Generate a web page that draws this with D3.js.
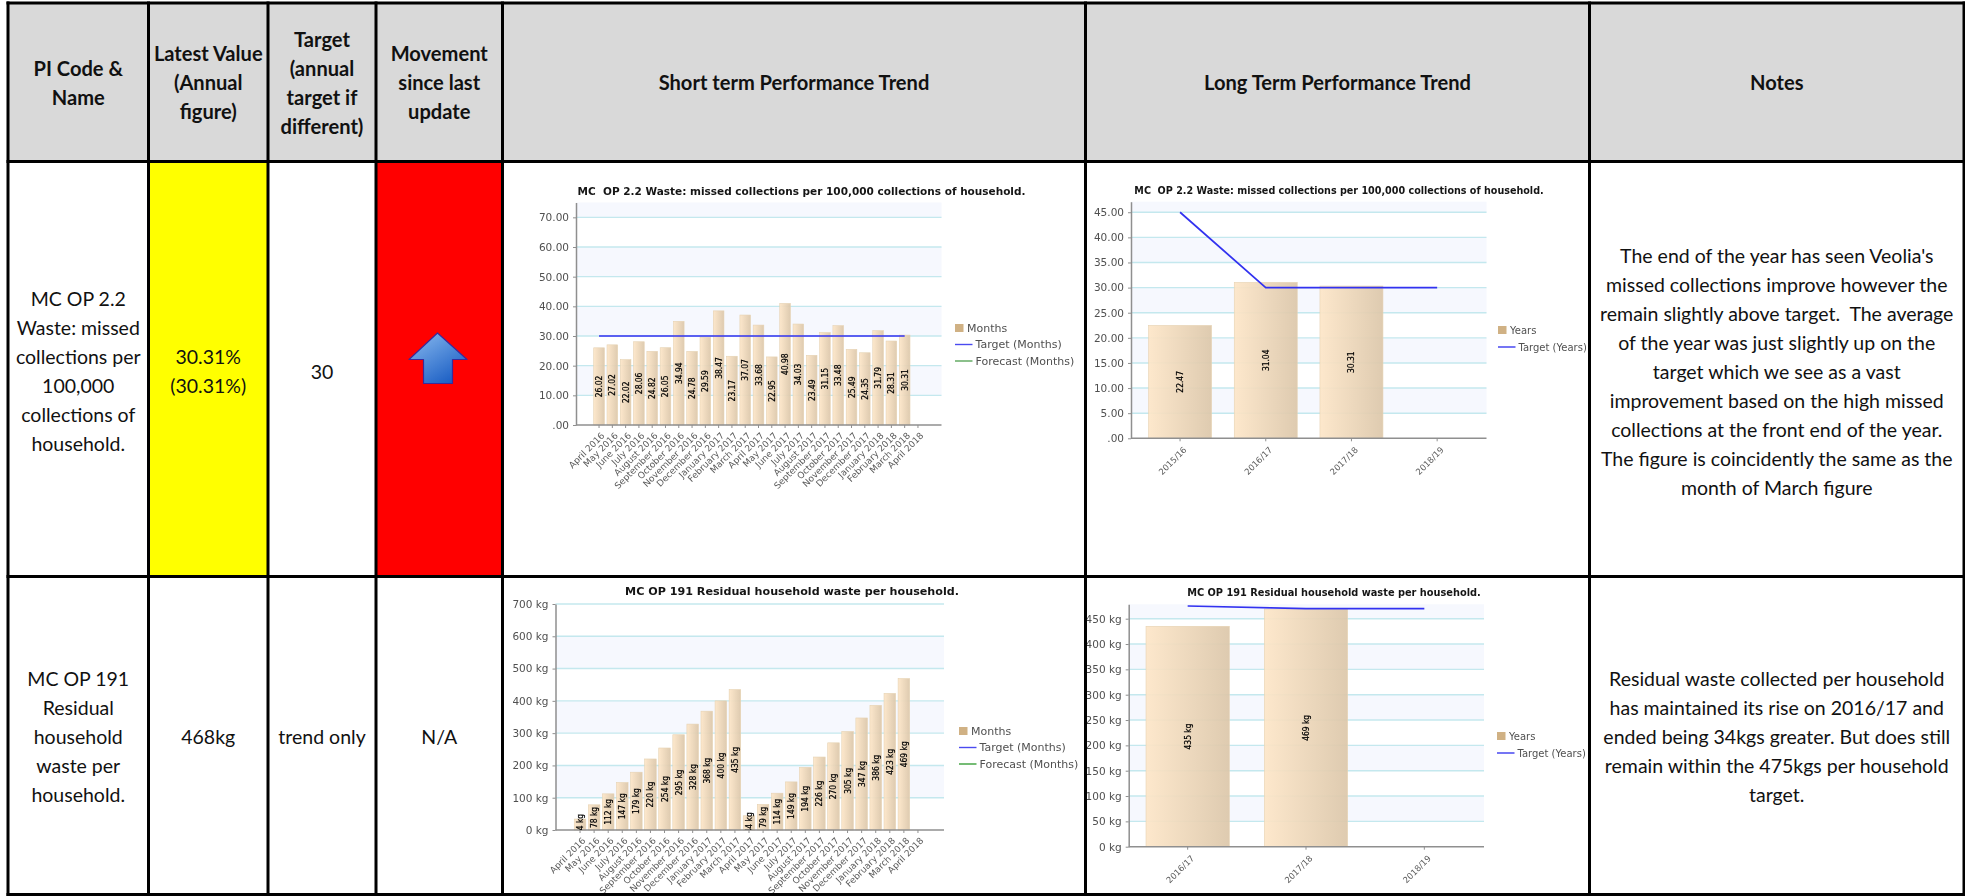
<!DOCTYPE html>
<html>
<head>
<meta charset="utf-8">
<title>Performance indicators</title>
<script src="https://cdnjs.cloudflare.com/ajax/libs/d3/7.8.5/d3.min.js"></script>
<style>
html,body{margin:0;padding:0;background:#fff;overflow:hidden}
svg{display:block}
.cell-text{font-family:Lato,"Open Sans",sans-serif;fill:#111;text-anchor:middle;dominant-baseline:central}
.chart{font-family:"DejaVu Sans",sans-serif;filter:blur(.5px)}
.chart .domain{stroke:#8f8f8f;stroke-width:1.5px}
.chart .tick line{stroke:#8f8f8f}
</style>
</head>
<body>
<svg id="page" width="1965" height="896"></svg>
<script>
// ---- Chart data ----
const monthLabels = ["April 2016","May 2016","June 2016","July 2016","August 2016","September 2016","October 2016","November 2016","December 2016","January 2017","February 2017","March 2017","April 2017","May 2017","June 2017","July 2017","August 2017","September 2017","October 2017","November 2017","December 2017","January 2018","February 2018","March 2018","April 2018"];
const missedMonthly = [26.02,27.02,22.02,28.06,24.82,26.05,34.94,24.78,29.59,38.47,23.17,37.07,33.68,22.95,40.98,34.03,23.49,31.15,33.48,25.49,24.35,31.79,28.31,30.31];
const missedMonthlyTarget = [30,30,30,30,30,30,30,30,30,30,30,30,30,30,30,30,30,30,30,30,30,30,30,30];
const residualMonthly = [34,78,112,147,179,220,254,295,328,368,400,435,44,79,114,149,194,226,270,305,347,386,423,469];
const missedYears = ["2015/16","2016/17","2017/18","2018/19"];
const missedYearly = [22.47,31.04,30.31];
const missedYearlyTarget = [45,30,30,30];
const residualYears = ["2016/17","2017/18","2018/19"];
const residualYearly = [435,469];
const residualYearlyTarget = [475,470,470];
const missedMonthTicks = [0,10,20,30,40,50,60,70];
const residualMonthTicks = [0,100,200,300,400,500,600,700];
const missedYearTicks = [0,5,10,15,20,25,30,35,40,45];
const residualYearTicks = [0,50,100,150,200,250,300,350,400,450];
const missedTitle = "MC  OP 2.2 Waste: missed collections per 100,000 collections of household.";
const residualTitle = "MC OP 191 Residual household waste per household.";

// ---- Table text ----
const headerTexts = [
  ["PI Code &","Name"],
  ["Latest Value","(Annual","figure)"],
  ["Target","(annual","target if","different)"],
  ["Movement","since last","update"],
  ["Short term Performance Trend"],
  ["Long Term Performance Trend"],
  ["Notes"]
];
const rowOneTexts = [
  ["MC OP 2.2","Waste: missed","collections per","100,000","collections of","household."],
  ["30.31%","(30.31%)"],
  ["30"]
];
const rowTwoTexts = [
  ["MC OP 191","Residual","household","waste per","household."],
  ["468kg"],
  ["trend only"],
  ["N/A"]
];
const rowOneNotes = ["The end of the year has seen Veolia's","missed collections improve however the","remain slightly above target.  The average","of the year was just slightly up on the","target which we see as a vast","improvement based on the high missed","collections at the front end of the year.","The figure is coincidently the same as the","month of March figure"];
const rowTwoNotes = ["Residual waste collected per household","has maintained its rise on 2016/17 and","ended being 34kgs greater. But does still","remain within the 475kgs per household","target."];

// ---- Table geometry ----
const colEdges = [8,148.5,268,376,502.5,1085.5,1589.5,1964];
const rowEdges = [3,161.5,576.5,894.5];
const lineHeight = 29;

const svg = d3.select("#page");
const defs = svg.append("defs");

const barGradient = defs.append("linearGradient").attr("id","barFill");
barGradient.append("stop").attr("offset","0%").attr("stop-color","#fde6c8");
barGradient.append("stop").attr("offset","100%").attr("stop-color","#dcc7aa");

const arrowGradient = defs.append("linearGradient").attr("id","arrowFill").attr("x1",0).attr("x2",.7).attr("y1",0).attr("y2",1);
arrowGradient.append("stop").attr("offset","0%").attr("stop-color","#8cbcf0");
arrowGradient.append("stop").attr("offset","100%").attr("stop-color","#1c5fc4");

// Cell backgrounds
const cx = i => (colEdges[i]+colEdges[i+1])/2;
const cy = i => (rowEdges[i]+rowEdges[i+1])/2;
const fillCell = (col,row,color) => svg.append("rect")
  .attr("x",colEdges[col]).attr("y",rowEdges[row])
  .attr("width",colEdges[col+1]-colEdges[col]).attr("height",rowEdges[row+1]-rowEdges[row])
  .attr("fill",color);
d3.range(7).forEach(c => fillCell(c,0,"#d9d9d9"));
fillCell(1,1,"#ffff00");
fillCell(3,1,"#ff0000");

// Centred multi-line cell text
function cellText(lines,x,y,opts={}){
  const start = y-(lines.length-1)*lineHeight/2;
  svg.append("g").selectAll("text").data(lines).join("text")
    .attr("class","cell-text")
    .attr("x",x)
    .attr("y",(d,i)=>start+i*lineHeight)
    .attr("font-size",opts.size||19.5)
    .attr("font-weight",opts.bold?700:400)
    .attr("xml:space","preserve")
    .style("white-space","pre")
    .text(d=>d);
}
headerTexts.forEach((lines,i)=>cellText(lines,cx(i),cy(0),{bold:true,size:20.1}));
rowOneTexts.forEach((lines,i)=>cellText(lines,cx(i),cy(1)+2,{}));
cellText(rowOneNotes,cx(6),cy(1)+2,{});
rowTwoTexts.forEach((lines,i)=>cellText(lines,cx(i),cy(2)+1,{}));
cellText(rowTwoNotes,cx(6),cy(2)+1,{});

// Upward movement arrow
svg.append("path")
  .attr("d","M437.5,333 L467,359.5 L452.5,359.5 L452.5,383.5 L423.5,383.5 L423.5,359.5 L409,359.5 Z")
  .attr("fill","url(#arrowFill)")
  .attr("stroke","#3a2a9a").attr("stroke-width",1.2).attr("stroke-linejoin","round")
  .style("filter","blur(.5px)");

// Bar and target-line chart drawn from a category axis and a value axis
let clipCount = 0;
function drawChart(c){
  const g = svg.append("g").attr("class","chart");
  const x = d3.scaleBand().domain(c.categories).range(c.xRange).paddingInner(c.padding).paddingOuter(c.padding/2);
  const y = d3.scaleLinear().domain([0,c.yMax]).range([c.bottom,c.top]);
  const xMid = d => x(d)+x.bandwidth()/2;

  // Alternating bands between grid lines, starting unshaded at zero
  const edges = c.yTicks.concat([c.yMax]).filter((v,i,a)=>a.indexOf(v)===i);
  g.append("g").selectAll("rect").data(d3.pairs(edges).filter((p,i)=>i%2===1)).join("rect")
    .attr("x",c.left).attr("width",c.right-c.left)
    .attr("y",d=>y(d[1])).attr("height",d=>y(d[0])-y(d[1]))
    .attr("fill","#f6f8fe");

  g.append("g").selectAll("line").data(c.yTicks.filter(v=>v>0)).join("line")
    .attr("x1",c.left).attr("x2",c.right)
    .attr("y1",d=>y(d)).attr("y2",d=>y(d))
    .attr("stroke","#c4e8ee").attr("stroke-width",1.4);

  // Bars
  g.append("g").selectAll("rect").data(c.values).join("rect")
    .attr("x",(d,i)=>x(c.categories[i]))
    .attr("width",x.bandwidth())
    .attr("y",d=>y(d))
    .attr("height",d=>y(0)-y(d))
    .attr("fill","url(#barFill)")
    .attr("fill-opacity",.93)
    .attr("stroke","#e6d2b2").attr("stroke-width",.6);

  // Target line
  const line = d3.line().x((d,i)=>xMid(c.categories[i])).y(d=>y(d));
  g.append("path").datum(c.target).attr("d",line)
    .attr("fill","none").attr("stroke","#3232f0").attr("stroke-width",1.7);

  // Axes
  const xAxis = d3.axisBottom(x).tickSize(3).tickSizeOuter(0);
  const yAxis = d3.axisLeft(y).tickValues(c.yTicks).tickFormat(c.format).tickSize(3).tickPadding(4).tickSizeOuter(0);
  const gy = g.append("g").attr("transform",`translate(${c.left},0)`).call(yAxis);
  gy.selectAll("text").attr("font-size",c.yFont||10.5).attr("fill","#505050").attr("font-family","DejaVu Sans");
  const gx = g.append("g").attr("transform",`translate(0,${c.bottom})`).call(xAxis);
  gx.select(".domain").attr("d",`M${c.left},0H${c.right}`);
  gx.selectAll("text")
    .attr("font-size",c.xFont).attr("fill","#5a5a5a").attr("font-family","DejaVu Sans")
    .attr("text-anchor","end").attr("dx","0").attr("dy","0")
    .attr("y",0).attr("x",0)
    .attr("transform",`translate(${c.xLabelShift[0]},${c.xLabelShift[1]}) rotate(-45)`)
    .attr("dominant-baseline","central");

  // Value labels sit at mid-bar, cut off at the axis when the bar is short
  const clipId = "plot"+(clipCount++);
  defs.append("clipPath").attr("id",clipId).append("rect")
    .attr("x",c.left).attr("y",c.top).attr("width",c.right-c.left).attr("height",c.bottom-c.top);
  g.append("g").attr("clip-path",`url(#${clipId})`).selectAll("text").data(c.values).join("text")
    .attr("transform",(d,i)=>`translate(${xMid(c.categories[i])},${y(d/2)}) rotate(-90)`)
    .attr("text-anchor","middle").attr("dominant-baseline","central")
    .attr("font-family","DejaVu Sans Condensed, DejaVu Sans")
    .style("font-stretch","condensed")
    .attr("font-size",8.4).attr("fill","#000")
    .attr("stroke","#000").attr("stroke-width",.22)
    .text(c.labelFormat);

  // Title
  g.append("text").attr("x",c.titleX).attr("y",c.titleY)
    .attr("text-anchor","middle").attr("dominant-baseline","central")
    .attr("font-weight",700).attr("font-size",c.titleSize).attr("fill","#151515")
    .attr("xml:space","preserve").style("white-space","pre")
    .text(c.title);

  // Legend
  const legend = g.append("g").selectAll("g").data(c.legend).join("g")
    .attr("transform",(d,i)=>`translate(${c.legendX},${c.legendY+i*c.legendStep})`);
  legend.filter(d=>d.type==="bar").append("rect")
    .attr("x",0).attr("y",-4).attr("width",8.5).attr("height",8).attr("fill","#d0b184");
  legend.filter(d=>d.type==="line").append("line")
    .attr("x1",0).attr("x2",17.5).attr("stroke",d=>d.color).attr("stroke-width",1.4);
  legend.append("text")
    .attr("x",d=>d.type==="bar"?12:20.5)
    .attr("dominant-baseline","central")
    .attr("font-size",c.legendFont).attr("fill","#505050")
    .text(d=>d.name);
}

const twoDecimals = d3.format(".2f");
const tickDecimals = v => v===0 ? ".00" : twoDecimals(v);
const kg = v => v+" kg";

drawChart({
  title:missedTitle, titleX:801.5, titleY:191, titleSize:10.5,
  categories:monthLabels, values:missedMonthly, target:missedMonthlyTarget,
  yTicks:missedMonthTicks, yMax:75, format:tickDecimals, labelFormat:twoDecimals,
  left:576, right:941.5, top:202.5, bottom:425, xRange:[592.4,924.6], padding:.2, xFont:9, xLabelShift:[4,9],
  legendX:955, legendY:328, legendStep:16.5, legendFont:11,
  legend:[{type:"bar",name:"Months"},{type:"line",name:"Target (Months)",color:"#4a4af0"},{type:"line",name:"Forecast (Months)",color:"#5aa55a"}]
});
drawChart({
  title:residualTitle, titleX:792, titleY:591.5, titleSize:11.15,
  categories:monthLabels, values:residualMonthly, target:[],
  yTicks:residualMonthTicks, yMax:700, format:kg, labelFormat:kg,
  left:555.5, right:944, top:604, bottom:830, xRange:[573,925], padding:.18, xFont:9, xLabelShift:[4,9],
  legendX:959, legendY:731, legendStep:16.5, legendFont:11,
  legend:[{type:"bar",name:"Months"},{type:"line",name:"Target (Months)",color:"#4a4af0"},{type:"line",name:"Forecast (Months)",color:"#3aa03a"}]
});
drawChart({
  title:missedTitle, titleX:1339, titleY:190, titleSize:9.6,
  categories:missedYears, values:missedYearly, target:missedYearlyTarget,
  yTicks:missedYearTicks, yMax:47.1, format:tickDecimals, labelFormat:twoDecimals,
  left:1131, right:1486.5, top:201.7, bottom:438.3, xRange:[1137.2,1480], padding:.265, xFont:8.5, xLabelShift:[5,10],
  legendX:1498, legendY:330, legendStep:17, legendFont:10,
  legend:[{type:"bar",name:"Years"},{type:"line",name:"Target (Years)",color:"#3a3af0"}]
});
drawChart({
  title:residualTitle, titleX:1334, titleY:592, titleSize:9.8,
  categories:residualYears, values:residualYearly, target:residualYearlyTarget,
  yTicks:residualYearTicks, yMax:478.4, format:kg, labelFormat:kg,
  left:1128.7, right:1484, top:604.3, bottom:846.7, xRange:[1128.5,1483.5], padding:.296, xFont:8.5, xLabelShift:[5,10],
  legendX:1497, legendY:736, legendStep:17, legendFont:10,
  legend:[{type:"bar",name:"Years"},{type:"line",name:"Target (Years)",color:"#3a3af0"}]
});

// Table rules are drawn last so that they sit over the cell fills
svg.append("g").selectAll("line").data(colEdges).join("line")
  .attr("x1",d=>d).attr("x2",d=>d).attr("y1",rowEdges[0]-1.5).attr("y2",896)
  .attr("stroke","#000").attr("stroke-width",3);
svg.append("g").selectAll("line").data(rowEdges).join("line")
  .attr("x1",colEdges[0]-1.5).attr("x2",1965).attr("y1",d=>d).attr("y2",d=>d)
  .attr("stroke","#000").attr("stroke-width",3);
</script>
</body>
</html>
